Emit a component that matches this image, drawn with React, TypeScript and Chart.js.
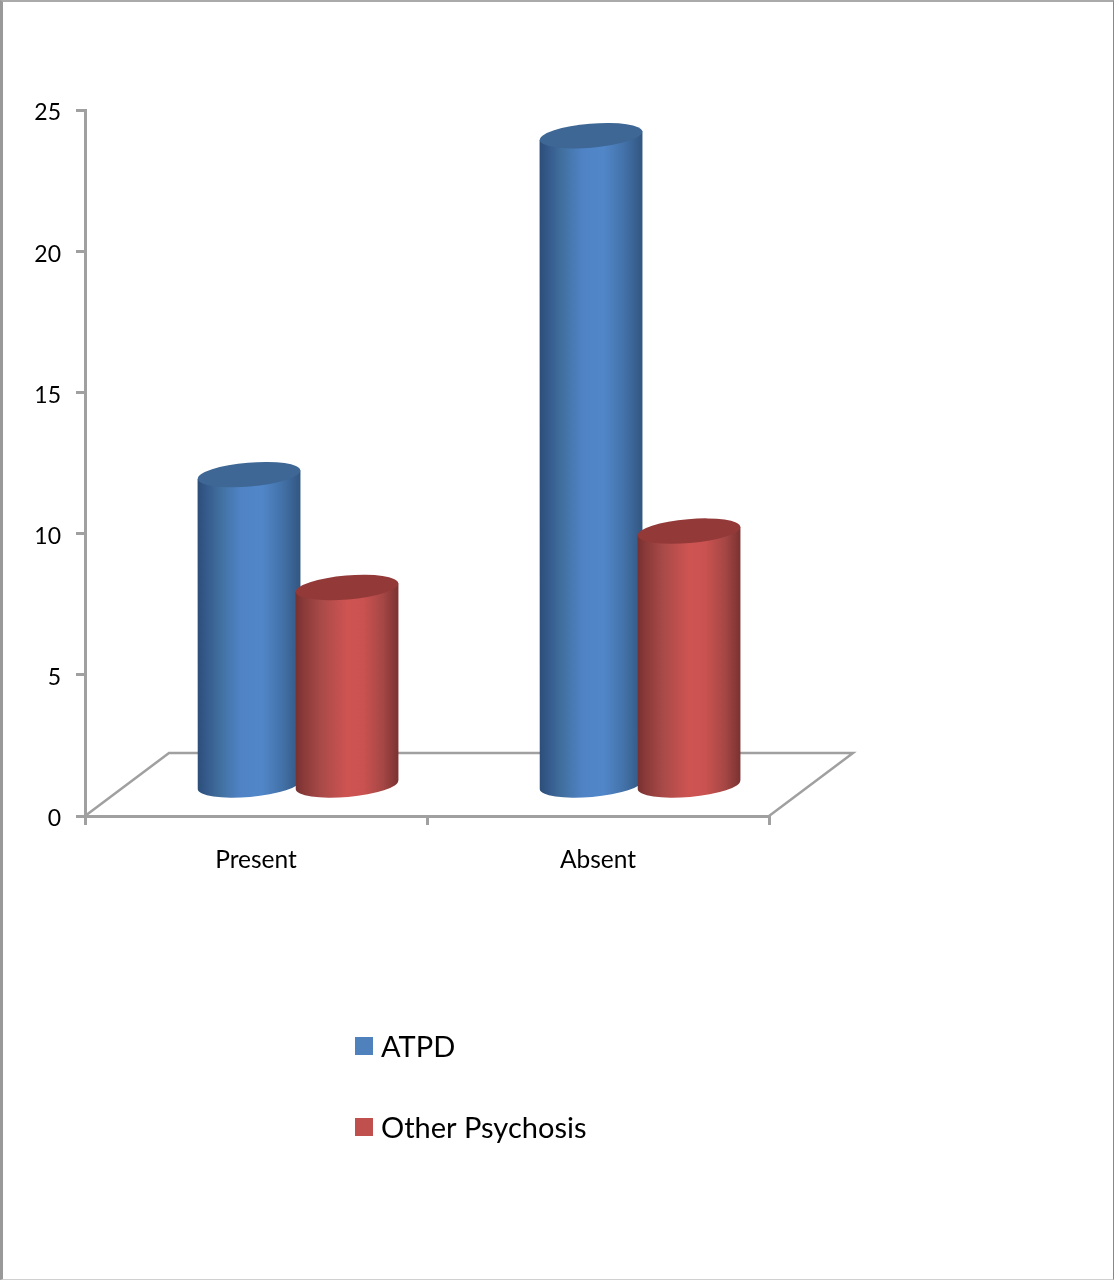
import React, { useEffect, useRef } from "react";
import { Chart, registerables } from "chart.js";

Chart.register(...registerables);

// Chart data
const categories = ["Present", "Absent"];
const atpdValues = [12, 24];
const otherPsychosisValues = [8, 10];
const yTicksMax = 25;
const yTickStep = 5;

// Cylinders stand on the floor plane, a little above the value axis origin
const floorValue = 1.1;

// Oblique projection of the floor plane
const DEPTH_X = 84;
const DEPTH_Y = 63;
const BAR_SHIFT_X = 42;
const TOP_LIFT = 2.5;
const ELLIPSE_RY = 12;
const ELLIPSE_TILT = -0.085;

const AXIS_COLOR = "#a0a0a0";
const FONT_FAMILY = "Lato, 'Open Sans', sans-serif";

type Shade = { stops: [number, string][]; top: string };
const shades: Shade[] = [
  {
    stops: [
      [0, "#2c4e78"],
      [0.08, "#34598a"],
      [0.22, "#41709f"],
      [0.42, "#4f83c6"],
      [0.62, "#5187c9"],
      [0.82, "#4372a9"],
      [1, "#325681"],
    ],
    top: "#3e6795",
  },
  {
    stops: [
      [0, "#773130"],
      [0.08, "#8a3a39"],
      [0.25, "#a94a48"],
      [0.5, "#ce5452"],
      [0.66, "#ca5250"],
      [0.85, "#a54745"],
      [1, "#7a3231"],
    ],
    top: "#933a39",
  },
];

const floorPlugin = {
  id: "floorPlane",
  beforeDatasetsDraw(chart: any) {
    const { ctx, chartArea } = chart;
    const { left, right, bottom } = chartArea;
    ctx.save();
    ctx.strokeStyle = AXIS_COLOR;
    ctx.lineWidth = 2.5;
    ctx.lineJoin = "miter";
    ctx.beginPath();
    ctx.moveTo(left, bottom);
    ctx.lineTo(left + DEPTH_X, bottom - DEPTH_Y);
    ctx.lineTo(right + DEPTH_X, bottom - DEPTH_Y);
    ctx.lineTo(right, bottom);
    ctx.stroke();
    ctx.restore();
  },
};

// Replaces the flat bars with shaded cylinders, later series in front
const cylinderPlugin = {
  id: "cylinders",
  beforeDatasetsDraw(chart: any) {
    const { ctx } = chart;
    chart.data.datasets.forEach((_: any, datasetIndex: number) => {
      const shade = shades[datasetIndex];
      chart.getDatasetMeta(datasetIndex).data.forEach((bar: any) => {
        const cx = bar.x + BAR_SHIFT_X;
        const half = bar.width / 2;
        const topY = bar.y - TOP_LIFT;
        const baseY = bar.base;
        const skew = Math.tan(ELLIPSE_TILT) * half;

        const gradient = ctx.createLinearGradient(cx - half, 0, cx + half, 0);
        shade.stops.forEach(([at, color]) => gradient.addColorStop(at, color));

        ctx.save();
        ctx.fillStyle = gradient;
        ctx.beginPath();
        ctx.moveTo(cx - half, topY - skew);
        ctx.lineTo(cx + half, topY + skew);
        ctx.lineTo(cx + half, baseY + skew);
        ctx.ellipse(cx, baseY, half, ELLIPSE_RY, ELLIPSE_TILT, 0, Math.PI, false);
        ctx.closePath();
        ctx.fill();

        ctx.fillStyle = shade.top;
        ctx.beginPath();
        ctx.ellipse(cx, topY, half, ELLIPSE_RY, ELLIPSE_TILT, 0, Math.PI * 2);
        ctx.fill();
        ctx.restore();
      });
    });
    return false;
  },
};

// Stacked legend underneath the plot
const legendPlugin = {
  id: "stackedLegend",
  afterDraw(chart: any) {
    const { ctx } = chart;
    const rows = [1046, 1127];
    ctx.save();
    ctx.font = `29px ${FONT_FAMILY}`;
    ctx.textBaseline = "middle";
    chart.data.datasets.forEach((dataset: any, i: number) => {
      ctx.fillStyle = dataset.backgroundColor;
      ctx.fillRect(355, rows[i] - 9, 18, 18);
      ctx.fillStyle = "#000000";
      ctx.fillText(dataset.label, 381, rows[i] + 2);
    });
    ctx.restore();
  },
};

export default function App() {
  const canvasRef = useRef<HTMLCanvasElement | null>(null);

  useEffect(() => {
    const chart = new Chart(canvasRef.current as HTMLCanvasElement, {
      type: "bar",
      data: {
        labels: categories,
        datasets: [
          { label: "ATPD", data: atpdValues, backgroundColor: "#4f81bd", base: floorValue },
          { label: "Other Psychosis", data: otherPsychosisValues, backgroundColor: "#c0504d", base: floorValue },
        ],
      },
      options: {
        responsive: false,
        animation: false,
        categoryPercentage: 0.573,
        barPercentage: 1.05,
        layout: { padding: { left: 0, top: 110, right: 345, bottom: 0 } },
        plugins: { legend: { display: false }, title: { display: false }, tooltip: { enabled: false } },
        scales: {
          x: {
            afterFit(scale: any) {
              scale.height = 464;
            },
            grid: { drawOnChartArea: false, color: AXIS_COLOR, lineWidth: 3, tickLength: 9 },
            border: { color: AXIS_COLOR, width: 3 },
            ticks: { color: "#000000", padding: 20, font: { family: FONT_FAMILY, size: 24.5 } },
          },
          y: {
            min: 0,
            max: yTicksMax,
            afterFit(scale: any) {
              scale.width = 85;
            },
            grid: { drawOnChartArea: false, color: AXIS_COLOR, lineWidth: 3, tickLength: 9 },
            border: { color: AXIS_COLOR, width: 3 },
            ticks: {
              stepSize: yTickStep,
              color: "#000000",
              padding: 15,
              labelOffset: 3,
              font: { family: FONT_FAMILY, size: 23 },
            },
          },
        },
      } as any,
      plugins: [floorPlugin, cylinderPlugin, legendPlugin],
    });
    return () => chart.destroy();
  }, []);

  return (
    <>
      <style>{"body{margin:0;background:#fff}"}</style>
      <div
        style={{
          position: "relative",
          width: 1114,
          height: 1280,
          boxSizing: "border-box",
          borderLeft: "3px solid #999999",
          borderTop: "2px solid #aaaaaa",
          borderRight: "1px solid #888888",
          borderBottom: "1px solid #d0d0d0",
        }}
      >
        <canvas
          ref={canvasRef}
          width={1114}
          height={1280}
          style={{ position: "absolute", left: -3, top: -2, display: "block" }}
        />
      </div>
    </>
  );
}
